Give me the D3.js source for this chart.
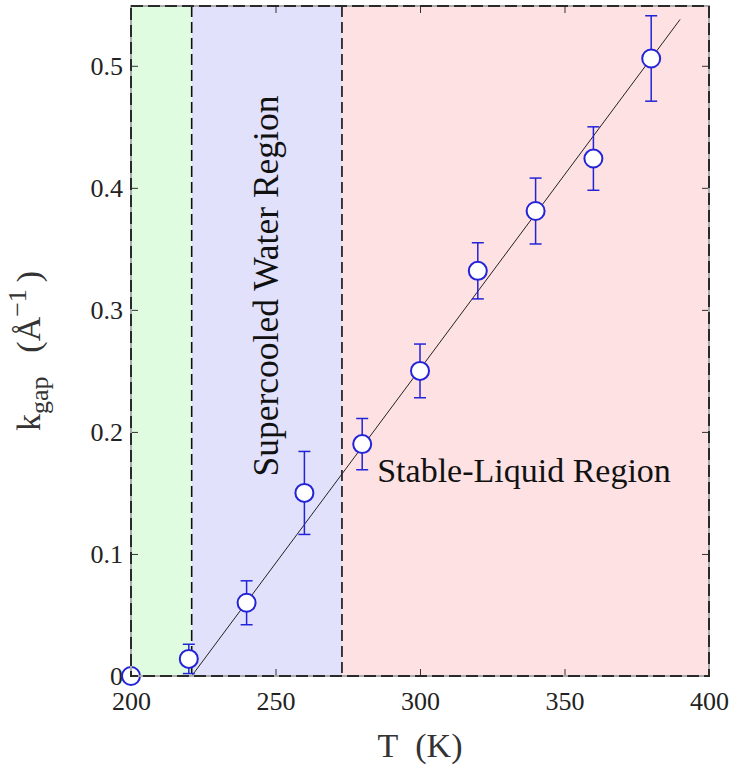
<!DOCTYPE html>
<html>
<head>
<meta charset="utf-8">
<script src="https://cdn.jsdelivr.net/npm/d3@7"></script>
<style>
  body { margin: 0; background: #fff; }
  svg text { font-family: 'Liberation Serif', 'Times New Roman', serif !important; }
</style>
</head>
<body>
<svg id="chart" width="734" height="773"></svg>
<script>
// data
var temps = [200, 220, 240, 260, 280, 300, 320, 340, 360, 380];
var kgap = [0, 0.014, 0.060, 0.150, 0.190, 0.250, 0.332, 0.381, 0.424, 0.506];
var kerr = [0, 0.012, 0.018, 0.034, 0.021, 0.022, 0.023, 0.027, 0.026, 0.035];

// linear fit line
var fitT = [221, 390];
var fitK = [0, 0.538];

// shaded regions
var regionEdges = [200, 221, 273, 400];
var regionColors = ['#e0fce0', '#e1e1fb', '#fde1e3'];

var xTicks = [200, 250, 300, 350, 400];
var yTicks = [0, 0.1, 0.2, 0.3, 0.4, 0.5];

var width = 734, height = 773;
var margin = {top: 6, right: 25, bottom: 97, left: 131};
var w = width - margin.left - margin.right;
var h = height - margin.top - margin.bottom;
var blue = '#2323d8';
var serif = "'Liberation Serif'";

var svg = d3.select('#chart')
  .attr('font-family', serif);

var g = svg.append('g')
  .attr('transform', 'translate(' + margin.left + ',' + margin.top + ')');

var x = d3.scaleLinear().domain([200, 400]).range([0, w]);
var y = d3.scaleLinear().domain([0, 0.549]).range([h, 0]);

// background regions
g.selectAll('rect.region')
  .data(regionColors)
  .enter().append('rect')
  .attr('class', 'region')
  .attr('x', function(d, i) { return x(regionEdges[i]); })
  .attr('width', function(d, i) { return x(regionEdges[i + 1]) - x(regionEdges[i]); })
  .attr('y', 0)
  .attr('height', h)
  .style('fill', function(d) { return d; });

// region boundaries
g.selectAll('line.edge')
  .data(regionEdges.slice(1, 3))
  .enter().append('line')
  .attr('x1', function(d) { return x(d); })
  .attr('x2', function(d) { return x(d); })
  .attr('y1', 0)
  .attr('y2', h)
  .style('stroke', '#111')
  .style('stroke-width', 1.6)
  .style('stroke-dasharray', '11,5');

// inside ticks via axes
var tickFmt = function(d) { return d === 0 ? '0' : d3.format('.1f')(d); };

var xAxis = g.append('g')
  .attr('transform', 'translate(0,' + h + ')')
  .call(d3.axisBottom(x).tickValues(xTicks).tickSizeInner(-7).tickSizeOuter(0).tickPadding(16));
var xTop = g.append('g')
  .call(d3.axisTop(x).tickValues(xTicks.slice(1, 4)).tickSizeInner(-7).tickSizeOuter(0).tickFormat(''));
var yAxis = g.append('g')
  .call(d3.axisLeft(y).tickValues(yTicks).tickSizeInner(-7).tickSizeOuter(0).tickPadding(8).tickFormat(tickFmt));
var yRight = g.append('g')
  .attr('transform', 'translate(' + w + ',0)')
  .call(d3.axisRight(y).tickValues(yTicks.slice(1)).tickSizeInner(-7).tickSizeOuter(0).tickFormat(''));

[xAxis, xTop, yAxis, yRight].forEach(function(a) {
  a.attr('font-family', serif).attr('font-size', 26);
  a.select('.domain').remove();
  a.selectAll('line').style('stroke', '#333').style('stroke-width', 1);
  a.selectAll('text')
    .attr('font-family', serif)
    .attr('font-size', 26)
    .attr('fill', '#222');
});

// fit line
var line = d3.line()
  .x(function(d, i) { return x(fitT[i]); })
  .y(function(d) { return y(d); });
g.append('path')
  .datum(fitK)
  .attr('d', line)
  .style('fill', 'none')
  .style('stroke', '#222')
  .style('stroke-width', 1);

// error bars
var eb = g.selectAll('g.err')
  .data(temps)
  .enter().append('g');
eb.append('line')
  .attr('x1', function(d) { return x(d); })
  .attr('x2', function(d) { return x(d); })
  .attr('y1', function(d, i) { return y(kgap[i] - kerr[i]); })
  .attr('y2', function(d, i) { return y(kgap[i] + kerr[i]); });
eb.append('line')
  .attr('x1', function(d) { return x(d) - 6; })
  .attr('x2', function(d) { return x(d) + 6; })
  .attr('y1', function(d, i) { return y(kgap[i] + kerr[i]); })
  .attr('y2', function(d, i) { return y(kgap[i] + kerr[i]); });
eb.append('line')
  .attr('x1', function(d) { return x(d) - 6; })
  .attr('x2', function(d) { return x(d) + 6; })
  .attr('y1', function(d, i) { return y(kgap[i] - kerr[i]); })
  .attr('y2', function(d, i) { return y(kgap[i] - kerr[i]); });
eb.selectAll('line')
  .style('stroke', blue)
  .style('stroke-width', 1.5);

// points
g.selectAll('circle')
  .data(temps)
  .enter().append('circle')
  .attr('cx', function(d) { return x(d); })
  .attr('cy', function(d, i) { return y(kgap[i]); })
  .attr('r', 9)
  .style('fill', '#fff')
  .style('stroke', blue)
  .style('stroke-width', 2);

// dashed frame on top
g.append('rect')
  .attr('width', w).attr('height', h)
  .style('fill', 'none')
  .style('stroke', '#aaa')
  .style('stroke-width', 2);
g.append('rect')
  .attr('width', w).attr('height', h)
  .style('fill', 'none')
  .style('stroke', '#2a2a2a')
  .style('stroke-width', 2)
  .style('stroke-dasharray', '12,5');

// region labels
g.append('text')
  .attr('transform', 'translate(' + (x(221 + (273 - 221) / 2) + 11) + ',' + 280 + ') rotate(-90)')
  .attr('text-anchor', 'middle')
  .attr('font-size', 35.5)
  .attr('fill', '#111')
  .text('Supercooled Water Region');

g.append('text')
  .attr('x', x(280) + 15)
  .attr('y', 476)
  .attr('font-size', 34)
  .attr('fill', '#111')
  .text('Stable-Liquid Region');

// axis labels
svg.append('text')
  .attr('x', margin.left + w / 2)
  .attr('y', 757)
  .attr('text-anchor', 'middle')
  .attr('font-size', 34)
  .attr('fill', '#333')
  .text('T\u2002(K)');

var yl = svg.append('text')
  .attr('transform', 'translate(40,351) rotate(-90)')
  .attr('text-anchor', 'middle')
  .attr('font-size', 34)
  .attr('fill', '#333');
yl.append('tspan').text('k');
yl.append('tspan').attr('dy', 8).attr('font-size', 26).text('gap');
yl.append('tspan').attr('dy', -8).text('\u2002\u2009(Å');
yl.append('tspan').attr('dy', -14).attr('font-size', 26).text('\u22121');
yl.append('tspan').attr('dy', 14).text('\u2009)');
</script>
</body>
</html>
